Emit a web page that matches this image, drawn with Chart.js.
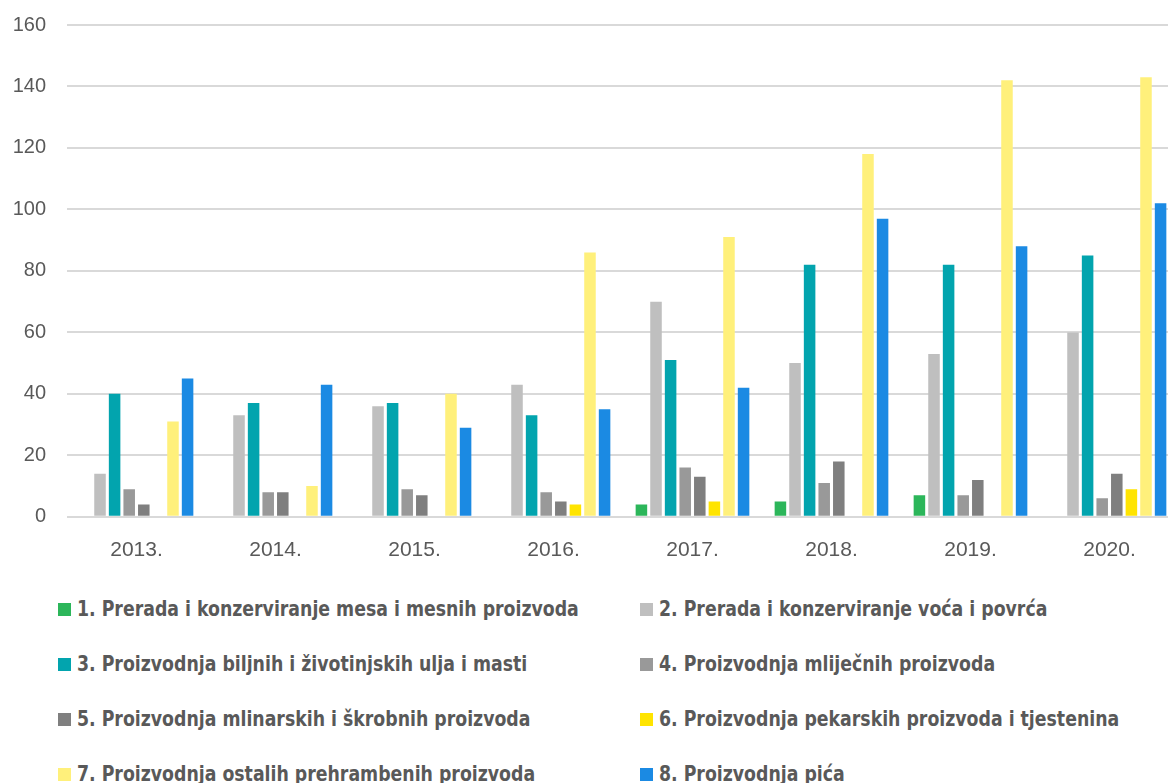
<!DOCTYPE html>
<html>
<head>
<meta charset="utf-8">
<script src="https://cdn.jsdelivr.net/npm/chart.js@4/dist/chart.umd.min.js"></script>
<style>
	html, body { margin:0; padding:0; background:#fff; overflow:hidden; width:1168px; height:783px; }
	#wrap { position:absolute; left:0; top:0; width:1180px; height:576px; }
	#legend { position:absolute; left:0; top:580px; width:1168px; }
	.item { position:absolute; display:flex; align-items:center; white-space:nowrap;
		font-family:"Liberation Sans Narrow","DejaVu Sans Condensed",sans-serif; font-weight:bold;
		font-size:21px; color:#595959; }
	.item i { display:inline-block; width:13px; height:13px; margin-right:6px; flex:none; }
	.item span { display:inline-block; transform:scaleX(0.917); transform-origin:0 50%; }
</style>
</head>
<body>
<div id="wrap"><canvas id="grafico" width="1180" height="576"></canvas></div>
<div id="legend"></div>
<script>
var godine = ["2013.","2014.","2015.","2016.","2017.","2018.","2019.","2020."];
var nazivi = [
	"1. Prerada i konzerviranje mesa i mesnih proizvoda",
	"2. Prerada i konzerviranje voća i povrća",
	"3. Proizvodnja biljnih i životinjskih ulja i masti",
	"4. Proizvodnja mliječnih proizvoda",
	"5. Proizvodnja mlinarskih i škrobnih proizvoda",
	"6. Proizvodnja pekarskih proizvoda i tjestenina",
	"7. Proizvodnja ostalih prehrambenih proizvoda",
	"8. Proizvodnja pića"
];
var meso      = [0, 0, 0, 0, 4, 5, 7, 0];
var voce      = [14, 33, 36, 43, 70, 50, 53, 60];
var ulja      = [40, 37, 37, 33, 51, 82, 82, 85];
var mlijecni  = [9, 8, 9, 8, 16, 11, 7, 6];
var mlinarski = [4, 8, 7, 5, 13, 18, 12, 14];
var pekarski  = [0, 0, 0, 4, 5, 0, 0, 9];
var ostali    = [31, 10, 40, 86, 91, 118, 142, 143];
var pica      = [45, 43, 29, 35, 42, 97, 88, 102];
var yTicks    = [0, 20, 40, 60, 80, 100, 120, 140, 160];

var serije = [meso, voce, ulja, mlijecni, mlinarski, pekarski, ostali, pica];
var boje = ["#2cb65a","#bfbfbf","#02a4ae","#999999","#7f7f7f","#ffe400","#fff07b","#1b8ae3"];

var datasets = serije.map(function(s, i){
	return {
		label: nazivi[i],
		data: s,
		backgroundColor: boje[i],
		borderWidth: 0,
		barPercentage: 0.79,
		categoryPercentage: 0.84
	};
});

var ctx = document.getElementById("grafico").getContext("2d");
var chart = new Chart(ctx, {
	type: 'bar',
	data: { labels: godine, datasets: datasets },
	options: {
		responsive: false,
		animation: false,
		layout: { padding: { top: 25, right: 1, left: 0, bottom: 0 } },
		plugins: { legend: { display: false }, tooltip: { enabled: false } },
		scales: {
			x: {
				grid: { display: false },
				border: { display: false },
				ticks: { color: "#595959", font: { family: "Liberation Sans", size: 21 }, padding: 13 }
			},
			y: {
				min: 0, max: 160,
				afterBuildTicks: function(s){ s.ticks = yTicks.map(function(v){ return { value: v }; }); },
				afterFit: function(s){ s.width = 67; s.paddingTop = 0; },
				grid: { color: "#d9d9d9", lineWidth: 2, drawTicks: false },
				border: { display: false },
				ticks: { color: "#595959", font: { family: "Liberation Sans", size: 20 }, padding: 21 }
			}
		}
	}
});

// legenda u dva stupca
var leg = document.getElementById("legend");
var stupci = [58, 640];
chart.data.datasets.forEach(function(ds, i){
	var d = document.createElement("div");
	d.className = "item";
	d.style.left = stupci[i % 2] + "px";
	d.style.top = (Math.floor(i / 2) * 55 + 17) + "px";
	d.innerHTML = '<i style="background:' + ds.backgroundColor + '"></i><span>' + ds.label + '</span>';
	leg.appendChild(d);
});
</script>
</body>
</html>
